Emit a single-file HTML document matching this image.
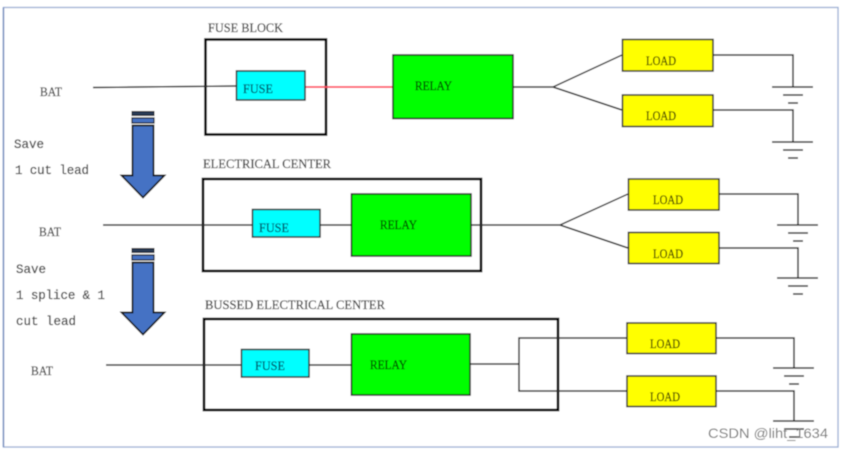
<!DOCTYPE html>
<html><head><meta charset="utf-8">
<style>
html,body{margin:0;padding:0;background:#fff;width:843px;height:450px;overflow:hidden}
svg{display:block}
text{font-family:"Liberation Serif",serif;fill:#444}
.w{stroke:#2a2a2a;stroke-width:1.500;fill:none}
.b{stroke:#000;stroke-width:2.600;fill:none}
.fu{fill:#00ffff;stroke:#2a2a2a;stroke-width:1.500}
.re{fill:#00ff00;stroke:#1a1a1a;stroke-width:1.500}
.lo{fill:#ffff00;stroke:#2a2a2a;stroke-width:1.500}
.lbl{font-size:13px;stroke:#444;stroke-width:.25}
.tl{fill:#3f3f00;stroke:#3f3f00}
.tr{fill:#064a06;stroke:#064a06}
.tf{fill:#06586a;stroke:#06586a}
.m{font-family:"Liberation Mono",monospace;font-size:12.5px;fill:#444;stroke:#444;stroke-width:.25}
</style></head><body>
<svg width="843" height="450" viewBox="0 0 843 450" xmlns="http://www.w3.org/2000/svg">
<defs>
<g id="gnd"><path class="w" d="M-21 0H20M-10 8H10M-5 16H5"/></g>
<g id="arrow">
<path d="M132 111.500H154V115.500H132Z" fill="#2b3a55" stroke="#111" stroke-width="1"/>
<path d="M132 118H154V123H132Z" fill="#4472c4" stroke="#111" stroke-width="1.200"/>
<path d="M132.500 125.500H153.500V175.500H164.500L143 197.500L121.500 175.500H132.500Z" fill="#4472c4" stroke="#111" stroke-width="1.700"/>
</g>
<filter id="s"><feGaussianBlur stdDeviation="0.45"/></filter>
</defs>
<g filter="url(#s)">
<rect x="3.500" y="7.500" width="834.500" height="439.500" fill="#fff" stroke="#9db0d4" stroke-width="1.300"/>
<path d="M3.500 7.500V447" stroke="#7088bb" stroke-width="1.300"/>

<!-- Row 1 -->
<rect class="b" x="205.500" y="39.500" width="120.500" height="95"/>
<path class="w" d="M93 87.500L236 86"/>
<path d="M305 87H393" stroke="#ff4a5e" stroke-width="1.800"/>
<rect class="fu" x="236.500" y="71" width="68.500" height="29"/>
<rect class="re" x="393" y="55" width="120" height="63.500"/>
<path class="w" d="M513 87H553L622 55M553 87L622 110"/>
<rect class="lo" x="622.500" y="39.500" width="90.500" height="31.500"/>
<rect class="lo" x="622.500" y="95" width="90.500" height="31.500"/>
<path class="w" d="M713 55H793V87M713 110H793V142"/>
<use href="#gnd" x="793" y="87"/>
<use href="#gnd" x="793" y="142"/>

<!-- Row 2 -->
<rect class="b" x="203" y="179" width="278" height="92"/>
<path class="w" d="M103 225H252M320 225H351M471 225H560L628 194M560 225L628 248"/>
<rect class="fu" x="252.500" y="209.500" width="67.500" height="27.500"/>
<rect class="re" x="351.500" y="194" width="119.500" height="62"/>
<rect class="lo" x="628.500" y="179" width="90.500" height="31"/>
<rect class="lo" x="628.500" y="232.500" width="90.500" height="31"/>
<path class="w" d="M719 194H798V225M719 248H798V278"/>
<use href="#gnd" x="798" y="225"/>
<use href="#gnd" x="798" y="278"/>

<!-- Row 3 -->
<rect class="b" x="204" y="319" width="354" height="91"/>
<path class="w" d="M106 365H241M309 365H351M470 364H519M627 338H519V391H627"/>
<rect class="fu" x="241.500" y="349.500" width="67.500" height="27.500"/>
<rect class="re" x="351.500" y="334" width="118.500" height="61"/>
<rect class="lo" x="627" y="323" width="89" height="30.500"/>
<rect class="lo" x="627" y="376" width="89" height="30.500"/>
<path class="w" d="M716 338H794V368M716 391H794V421"/>
<use href="#gnd" x="794" y="368"/>
<use href="#gnd" x="794" y="421"/>

<use href="#arrow"/>
<use href="#arrow" y="137"/>

<!-- Labels -->
<text class="lbl" x="208" y="32" textLength="75" lengthAdjust="spacingAndGlyphs">FUSE BLOCK</text>
<text class="lbl" x="203" y="168" textLength="128" lengthAdjust="spacingAndGlyphs">ELECTRICAL CENTER</text>
<text class="lbl" x="205" y="309" textLength="180" lengthAdjust="spacingAndGlyphs">BUSSED ELECTRICAL CENTER</text>

<text class="lbl" x="40" y="96" textLength="22" lengthAdjust="spacingAndGlyphs">BAT</text>
<text class="lbl" x="39" y="236" textLength="22" lengthAdjust="spacingAndGlyphs">BAT</text>
<text class="lbl" x="31" y="375" textLength="22" lengthAdjust="spacingAndGlyphs">BAT</text>

<text class="m" x="14" y="148" textLength="30">Save</text>
<text class="m" x="15" y="174" textLength="74">1 cut lead</text>
<text class="m" x="16" y="273" textLength="30">Save</text>
<text class="m" x="16" y="299" textLength="89">1 splice &amp; 1</text>
<text class="m" x="16" y="325" textLength="60">cut lead</text>

<text class="lbl tf" x="243" y="93" textLength="30" lengthAdjust="spacingAndGlyphs">FUSE</text>
<text class="lbl tf" x="259" y="232" textLength="30" lengthAdjust="spacingAndGlyphs">FUSE</text>
<text class="lbl tf" x="255" y="370" textLength="30" lengthAdjust="spacingAndGlyphs">FUSE</text>

<text class="lbl tr" x="415" y="90" textLength="37" lengthAdjust="spacingAndGlyphs">RELAY</text>
<text class="lbl tr" x="380" y="229" textLength="37" lengthAdjust="spacingAndGlyphs">RELAY</text>
<text class="lbl tr" x="370" y="369" textLength="37" lengthAdjust="spacingAndGlyphs">RELAY</text>

<text class="lbl tl" x="646" y="65" textLength="30" lengthAdjust="spacingAndGlyphs">LOAD</text>
<text class="lbl tl" x="646" y="120" textLength="30" lengthAdjust="spacingAndGlyphs">LOAD</text>
<text class="lbl tl" x="653" y="204" textLength="30" lengthAdjust="spacingAndGlyphs">LOAD</text>
<text class="lbl tl" x="653" y="258" textLength="30" lengthAdjust="spacingAndGlyphs">LOAD</text>
<text class="lbl tl" x="650" y="348" textLength="30" lengthAdjust="spacingAndGlyphs">LOAD</text>
<text class="lbl tl" x="650" y="401" textLength="30" lengthAdjust="spacingAndGlyphs">LOAD</text>

<text x="708" y="438" textLength="120" lengthAdjust="spacingAndGlyphs" style="font-family:'Liberation Sans',sans-serif;font-size:14px;fill:#777">CSDN @liht_1634</text>
</g>
</svg>
</body></html>
